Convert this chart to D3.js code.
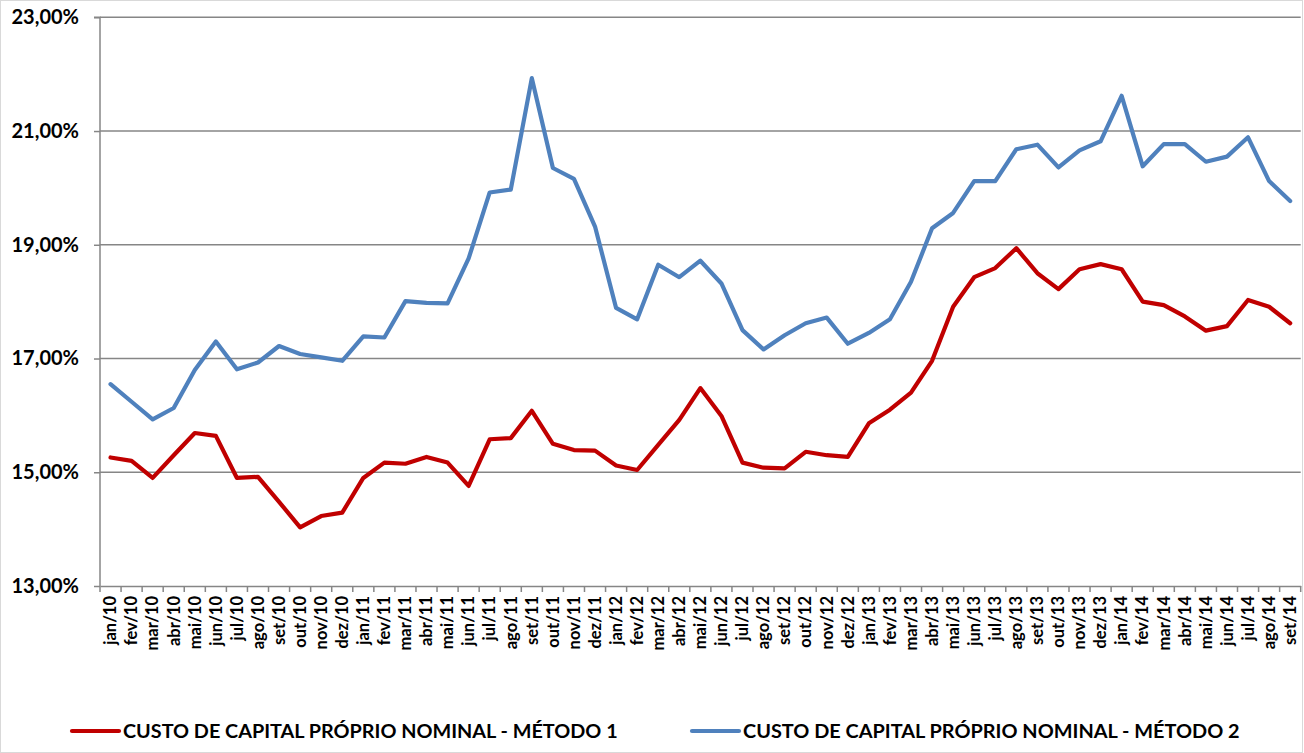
<!DOCTYPE html>
<html><head><meta charset="utf-8">
<script src="https://cdn.jsdelivr.net/npm/d3@7"></script>
<style>body{margin:0;background:#fff;} svg{display:block;}</style>
</head><body>
<svg id="c" width="1304" height="753"></svg>
<script>
const months = ["jan/10","fev/10","mar/10","abr/10","mai/10","jun/10","jul/10","ago/10","set/10","out/10","nov/10","dez/10",
"jan/11","fev/11","mar/11","abr/11","mai/11","jun/11","jul/11","ago/11","set/11","out/11","nov/11","dez/11",
"jan/12","fev/12","mar/12","abr/12","mai/12","jun/12","jul/12","ago/12","set/12","out/12","nov/12","dez/12",
"jan/13","fev/13","mar/13","abr/13","mai/13","jun/13","jul/13","ago/13","set/13","out/13","nov/13","dez/13",
"jan/14","fev/14","mar/14","abr/14","mai/14","jun/14","jul/14","ago/14","set/14"];
const metodo1 = [15.26,15.20,14.90,15.30,15.69,15.64,14.90,14.92,14.48,14.03,14.23,14.29,
14.90,15.17,15.15,15.27,15.17,14.76,15.58,15.60,16.08,15.50,15.39,15.38,
15.12,15.04,15.48,15.92,16.48,15.99,15.17,15.08,15.07,15.36,15.30,15.27,
15.86,16.10,16.40,16.96,17.91,18.43,18.59,18.94,18.50,18.22,18.57,18.66,
18.57,18.00,17.94,17.74,17.49,17.57,18.03,17.91,17.62];
const metodo2 = [16.55,16.24,15.93,16.13,16.80,17.30,16.81,16.93,17.22,17.08,17.02,16.96,
17.39,17.37,18.01,17.98,17.97,18.76,19.92,19.97,21.93,20.35,20.16,19.32,
17.89,17.69,18.65,18.43,18.72,18.32,17.50,17.16,17.41,17.62,17.72,17.26,
17.45,17.69,18.35,19.29,19.56,20.12,20.12,20.68,20.76,20.36,20.66,20.82,
21.62,20.38,20.77,20.77,20.46,20.55,20.89,20.12,19.77];
const yTicks = [13,15,17,19,21,23];
const seriesNames = ["CUSTO DE CAPITAL PRÓPRIO NOMINAL - MÉTODO 1","CUSTO DE CAPITAL PRÓPRIO NOMINAL - MÉTODO 2"];
const colors = ["#C00000","#4F81BD"];

const svg = d3.select("#c");
const L = 100, R = 1300.7, T = 17.3, B = 586;
const x = d3.scaleBand().domain(months).range([L, R]).padding(0);
const y = d3.scaleLinear().domain([13, 23]).range([B, T]);
const fmt = v => v.toFixed(2).replace(".", ",") + "%";

svg.append("rect").attr("x",0.5).attr("y",0.5).attr("width",1302).attr("height",752)
  .attr("fill","#fff").attr("stroke","#d9d9d9").attr("stroke-width",1);

// gridlines
svg.append("g").selectAll("line").data(yTicks.filter(d=>d>13)).join("line")
  .attr("x1",L).attr("x2",R).attr("y1",d=>y(d)).attr("y2",d=>y(d))
  .attr("stroke","#868686").attr("stroke-width",1.5);

// y axis
const ya = svg.append("g").attr("transform",`translate(${L},0)`)
  .call(d3.axisLeft(y).tickValues(yTicks).tickFormat(fmt).tickSize(6).tickPadding(15));
ya.select(".domain").attr("stroke","#868686").attr("stroke-width",1.5).attr("d",`M-6,${T}H0V${B}`);
ya.selectAll(".tick line").attr("stroke","#868686").attr("stroke-width",1.5);
ya.selectAll("text").attr("font-family","Lato, 'Open Sans', sans-serif").attr("font-weight","bold")
  .attr("font-size","20px").attr("fill","#000");

// x axis
const xa = svg.append("g").attr("transform",`translate(0,${B})`)
  .call(d3.axisBottom(x).tickSize(0).tickSizeOuter(0));
xa.select(".domain").attr("stroke","#868686").attr("stroke-width",1.5);
// tick marks at band boundaries
const bounds = months.map(m => x(m)).concat([R]);
svg.append("g").selectAll("line").data(bounds).join("line")
  .attr("x1",d=>d).attr("x2",d=>d).attr("y1",B).attr("y2",B+6)
  .attr("stroke","#868686").attr("stroke-width",1.5);
xa.selectAll(".tick text")
  .attr("font-family","Lato, 'Open Sans', sans-serif").attr("font-weight","bold")
  .attr("font-size","16.5px").attr("fill","#000")
  .attr("text-anchor","end")
  .attr("transform","rotate(-90)")
  .attr("x",-10).attr("y",0).attr("dy","0.35em");

// lines
const line = d3.line().x((d,i)=>x(months[i]) + x.bandwidth()/2).y(d=>y(d));
[metodo1, metodo2].forEach((s,k)=>{
  svg.append("path").datum(s).attr("d",line).attr("fill","none")
    .attr("stroke",colors[k]).attr("stroke-width",4.2)
    .attr("stroke-linejoin","round").attr("stroke-linecap","round");
});

// legend
const legX = [72, 692], legW = [495, 497], ly = 731;
seriesNames.forEach((n,k)=>{
  const g = svg.append("g");
  g.append("line").attr("x1",legX[k]).attr("x2",legX[k]+47).attr("y1",ly).attr("y2",ly)
    .attr("stroke",colors[k]).attr("stroke-width",4.2).attr("stroke-linecap","round");
  const t = g.append("text").attr("x",legX[k]+51).attr("y",ly).attr("dy","0.36em")
    .attr("font-family","Lato, 'Open Sans', sans-serif").attr("font-weight","bold")
    .attr("font-size","18px").attr("fill","#000").text(n);
  const w = t.node().getComputedTextLength();
  t.attr("font-size", (18*legW[k]/w).toFixed(2)+"px");
});
</script>
</body></html>
